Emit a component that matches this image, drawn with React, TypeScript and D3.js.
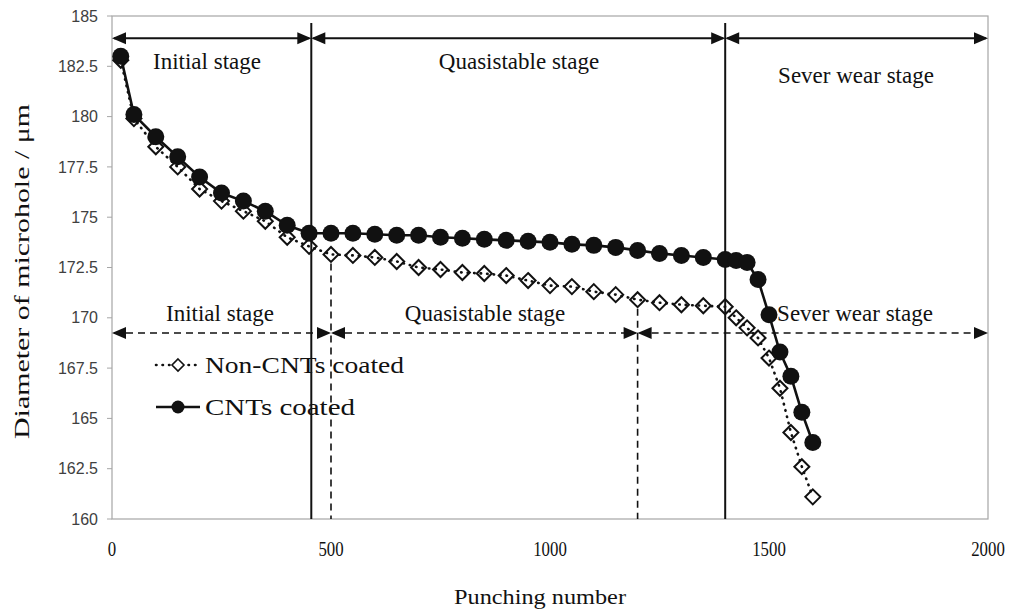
import React from "react";
import * as d3 from "d3";

// Punching numbers at which the microhole was measured.
const punches = [
  20, 50, 100, 150, 200, 250, 300, 350, 400, 450, 500, 550, 600, 650, 700, 750, 800, 850, 900, 950,
  1000, 1050, 1100, 1150, 1200, 1250, 1300, 1350, 1400, 1425, 1450, 1475, 1500, 1525, 1550, 1575, 1600,
];

// Diameter (um) for the CNTs coated punch.
const cntCoated = [
  183.0, 180.1, 179.0, 178.0, 177.0, 176.2, 175.8, 175.3, 174.6, 174.2, 174.2, 174.2, 174.15, 174.1,
  174.1, 174.0, 173.95, 173.9, 173.85, 173.8, 173.75, 173.65, 173.6, 173.5, 173.35, 173.2, 173.1,
  173.0, 172.9, 172.85, 172.75, 171.9, 170.15, 168.3, 167.1, 165.3, 163.8,
];

// Diameter (um) for the non-CNTs coated punch.
const nonCoated = [
  182.8, 179.9, 178.5, 177.5, 176.4, 175.8, 175.3, 174.8, 174.0, 173.55, 173.15, 173.1, 173.0, 172.8,
  172.5, 172.4, 172.25, 172.2, 172.1, 171.85, 171.6, 171.55, 171.3, 171.15, 170.9, 170.75, 170.65,
  170.6, 170.55, 170.0, 169.5, 169.0, 168.0, 166.5, 164.3, 162.6, 161.1,
];

// Stage boundaries (punching number) and names.
const stageNames = ["Initial stage", "Quasistable stage", "Sever wear stage"];
const cntStageBounds = [0, 455, 1400, 2000];
const nonStageBounds = [0, 500, 1200, 2000];

const xTicks = [0, 500, 1000, 1500, 2000];
const yTicks = [160, 162.5, 165, 167.5, 170, 172.5, 175, 177.5, 180, 182.5, 185];

const W = 1016;
const H = 614;
const left = 112;
const right = 988;
const top = 16;
const bottom = 519;

const serif = "'Liberation Serif', 'Times New Roman', serif";
const sans = "'Liberation Sans', Arial, sans-serif";
const ink = "#111";

const Arrow = ({ x1, x2, y, dashed }: { x1: number; x2: number; y: number; dashed?: boolean }) => {
  const L = 14;
  const h = 6;
  return (
    <g>
      <line
        x1={x1 + 2}
        x2={x2 - 2}
        y1={y}
        y2={y}
        stroke={ink}
        strokeWidth={dashed ? 1.5 : 2}
        strokeDasharray={dashed ? "7 5" : undefined}
      />
      <path d={`M${x1},${y} L${x1 + L},${y - h} L${x1 + L},${y + h} Z`} fill={ink} />
      <path d={`M${x2},${y} L${x2 - L},${y - h} L${x2 - L},${y + h} Z`} fill={ink} />
    </g>
  );
};

export default function App() {
  const x = d3.scaleLinear().domain([0, 2000]).range([left, right]);
  const y = d3.scaleLinear().domain([160, 185]).range([bottom, top]);

  const cntPts = punches.map((p, i) => [p, cntCoated[i]] as [number, number]);
  const nonPts = punches.map((p, i) => [p, nonCoated[i]] as [number, number]);

  const line = d3
    .line<[number, number]>()
    .x((d) => x(d[0]))
    .y((d) => y(d[1]));

  const diamond = (cx: number, cy: number, r: number) =>
    `M${cx},${cy - r} L${cx + r},${cy} L${cx},${cy + r} L${cx - r},${cy} Z`;

  const topArrowY = y(183.9);
  const lowArrowY = y(169.25);

  const nonAt = (p: number) => nonCoated[punches.indexOf(p)];

  return (
    <svg
      width={W}
      height={H}
      style={{ position: "absolute", left: 0, top: 0, background: "#fff" }}
    >
      {/* plot frame */}
      <rect x={left} y={top} width={right - left} height={bottom - top} fill="none" stroke="#a6a6a6" strokeWidth={1.2} />

      {/* y axis ticks */}
      {yTicks.map((t) => (
        <g key={t}>
          <line x1={left - 5} x2={left} y1={y(t)} y2={y(t)} stroke="#a6a6a6" />
          <text x={left - 14} y={y(t)} dy="0.35em" textAnchor="end" fontFamily={sans} fontSize={16} fill="#404040">
            {t}
          </text>
        </g>
      ))}

      {/* x axis ticks (condensed, like the original) */}
      {xTicks.map((t) => (
        <text
          key={t}
          x={x(t)}
          y={556}
          textAnchor="middle"
          fontFamily={serif}
          fontSize={20}
          textLength={String(t).length * 8.4}
          lengthAdjust="spacingAndGlyphs"
          fill={ink}
        >
          {t}
        </text>
      ))}

      <text x={x(1000) - 10} y={604} textAnchor="middle" fontFamily={serif} fontSize={22} textLength={172} lengthAdjust="spacingAndGlyphs" fill={ink}>
        Punching number
      </text>
      <text
        transform={`translate(29, ${(top + bottom) / 2 + 4}) rotate(-90)`}
        textAnchor="middle"
        fontFamily={serif}
        fontSize={22}
        textLength={335}
        lengthAdjust="spacingAndGlyphs"
        fill={ink}
      >
        Diameter of microhole / μm
      </text>

      {/* CNTs coated stage boundaries */}
      {cntStageBounds.slice(1, 3).map((b) => (
        <line key={b} x1={x(b)} x2={x(b)} y1={y(184.65)} y2={bottom} stroke={ink} strokeWidth={2} />
      ))}
      {stageNames.map((n, i) => (
        <Arrow key={n} x1={x(cntStageBounds[i])} x2={x(cntStageBounds[i + 1])} y={topArrowY} />
      ))}

      {/* non-CNTs stage boundaries */}
      {nonStageBounds.slice(1, 3).map((b) => (
        <line
          key={b}
          x1={x(b)}
          x2={x(b)}
          y1={y(nonAt(b) - 0.45)}
          y2={bottom}
          stroke={ink}
          strokeWidth={1.6}
          strokeDasharray="7 5"
        />
      ))}
      {stageNames.map((n, i) => (
        <Arrow key={n} x1={x(nonStageBounds[i])} x2={x(nonStageBounds[i + 1])} y={lowArrowY} dashed />
      ))}

      {/* stage labels */}
      <g fontFamily={serif} fontSize={23} fill={ink} textAnchor="middle">
        <text x={207} y={69}>{stageNames[0]}</text>
        <text x={519} y={69}>{stageNames[1]}</text>
        <text x={856} y={83}>{stageNames[2]}</text>
        <text x={220} y={321}>{stageNames[0]}</text>
        <text x={485} y={321}>{stageNames[1]}</text>
        <text x={855} y={321}>{stageNames[2]}</text>
      </g>

      {/* non-CNTs coated series */}
      <path
        d={line(nonPts) || ""}
        fill="none"
        stroke={ink}
        strokeWidth={2.6}
        strokeDasharray="0.5 6"
        strokeLinecap="round"
      />
      {nonPts.map((d, i) => (
        <path key={i} d={diamond(x(d[0]), y(d[1]), 7.5)} fill="none" stroke={ink} strokeWidth={2} />
      ))}

      {/* CNTs coated series */}
      <path d={line(cntPts) || ""} fill="none" stroke={ink} strokeWidth={2.6} />
      {cntPts.map((d, i) => (
        <circle key={i} cx={x(d[0])} cy={y(d[1])} r={8.5} fill={ink} />
      ))}

      {/* legend */}
      <g>
        <line x1={156} x2={200} y1={365} y2={365} stroke={ink} strokeWidth={2.6} strokeDasharray="0.5 6" strokeLinecap="round" />
        <path d={diamond(178, 365, 6)} fill="#fff" stroke={ink} strokeWidth={1.6} />
        <text x={205} y={373} fontFamily={serif} fontSize={24} textLength={199} lengthAdjust="spacingAndGlyphs" fill={ink}>
          Non-CNTs coated
        </text>
        <line x1={156} x2={200} y1={407} y2={407} stroke={ink} strokeWidth={2.6} />
        <circle cx={178} cy={407} r={6.5} fill={ink} />
        <text x={205} y={415} fontFamily={serif} fontSize={24} textLength={150} lengthAdjust="spacingAndGlyphs" fill={ink}>
          CNTs coated
        </text>
      </g>
    </svg>
  );
}
